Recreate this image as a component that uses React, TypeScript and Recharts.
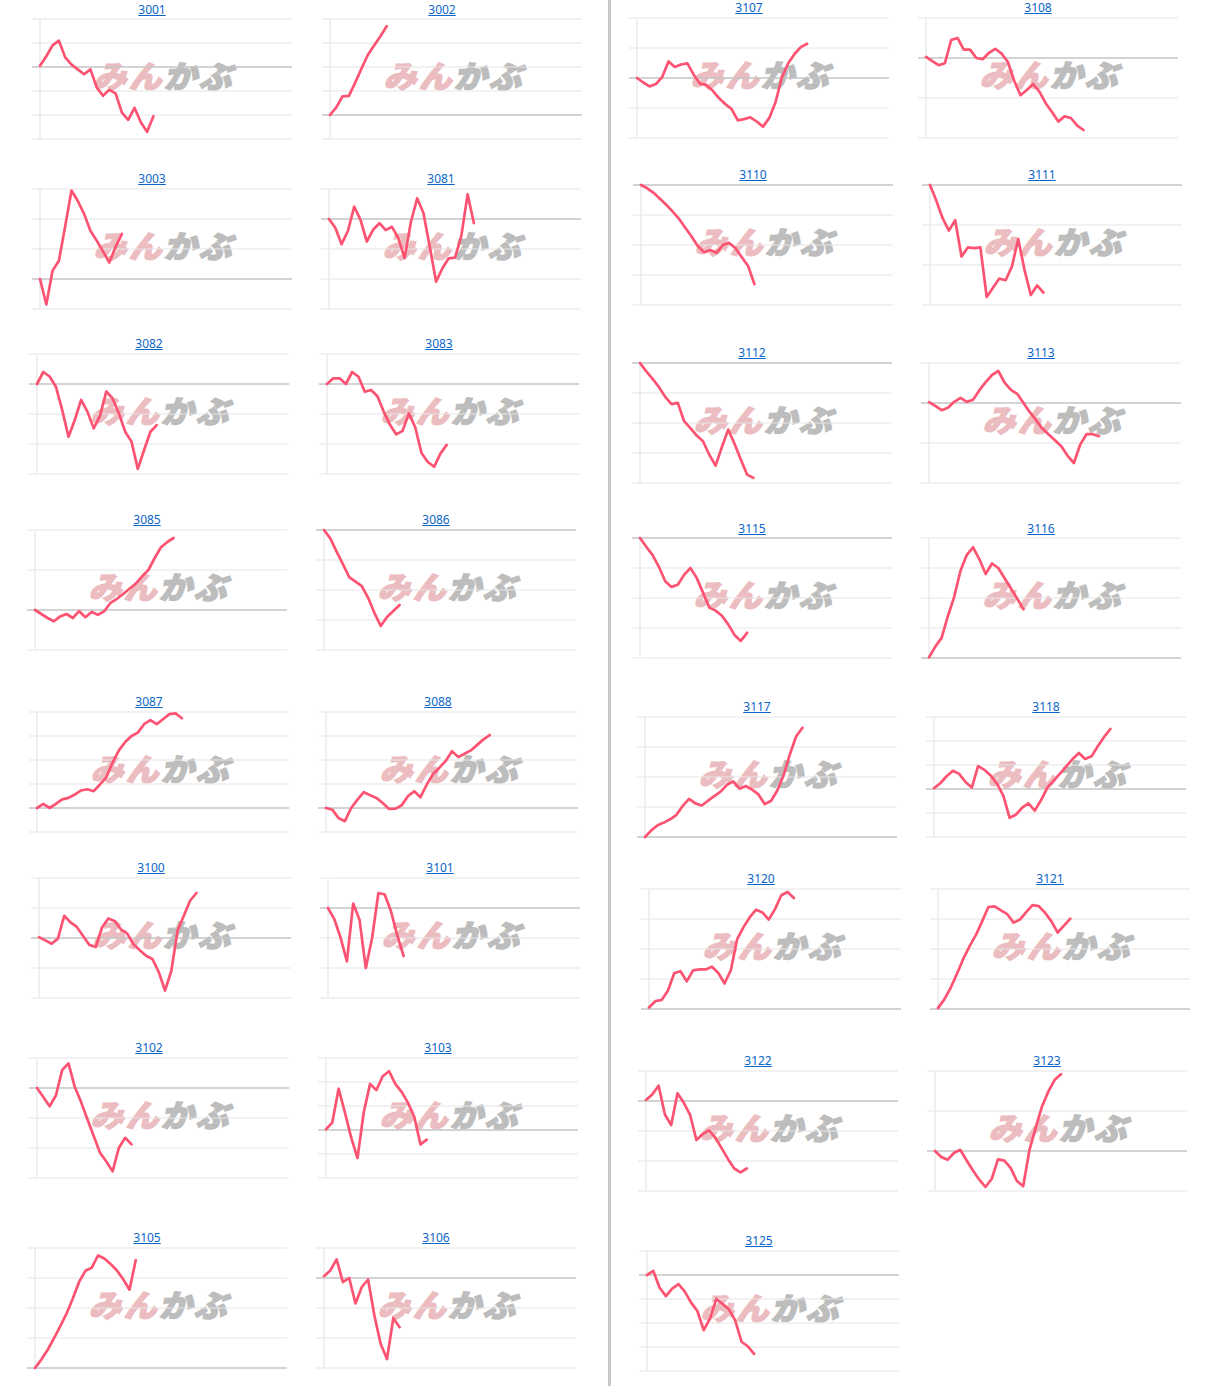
import React from "react";
import { LineChart, Line, XAxis, YAxis, ReferenceLine } from "recharts";

// price moves in grid steps, 0 = base price (darker line)
const s3001 = [0.05, 0.45, 0.9, 1.1, 0.4, 0.1, -0.1, -0.3, -0.1, -0.85, -1.2, -0.95, -1.1, -1.9, -2.2, -1.7, -2.3, -2.7, -2.05];
const s3002 = [0, 0.32, 0.78, 0.8, 1.35, 1.94, 2.5, 2.9, 3.28, 3.7];
const s3003 = [0, -0.85, 0.28, 0.61, 1.76, 2.95, 2.6, 2.17, 1.61, 1.28, 0.92, 0.55, 1.07, 1.5];
const s3081 = [0, -0.29, -0.84, -0.4, 0.41, -0.03, -0.75, -0.36, -0.14, -0.37, -0.26, -0.64, -1.3, -0.1, 0.69, 0.19, -0.93, -2.09, -1.64, -1.31, -1.29, -0.57, 0.82, -0.14];
const s3082 = [0, 0.4, 0.25, -0.09, -0.87, -1.76, -1.2, -0.53, -0.92, -1.48, -1.06, -0.25, -0.48, -0.98, -1.59, -1.92, -2.83, -2.2, -1.59, -1.37];
const s3083 = [0, 0.19, 0.19, 0, 0.4, 0.24, -0.26, -0.2, -0.41, -0.92, -1.36, -1.68, -1.56, -0.98, -1.44, -2.3, -2.6, -2.76, -2.32, -2.03];
const s3085 = [0, -0.1, -0.2, -0.28, -0.16, -0.1, -0.2, -0.03, -0.18, -0.05, -0.12, -0.03, 0.18, 0.28, 0.4, 0.53, 0.66, 0.84, 1.0, 1.3, 1.57, 1.7, 1.8];
const s3086 = [0, -0.28, -0.72, -1.14, -1.57, -1.72, -1.87, -2.26, -2.76, -3.2, -2.9, -2.7, -2.5];
const s3087 = [0, 0.17, 0, 0.17, 0.36, 0.42, 0.56, 0.73, 0.78, 0.7, 0.98, 1.28, 1.89, 2.4, 2.75, 3.0, 3.14, 3.49, 3.66, 3.49, 3.7, 3.91, 3.94, 3.74];
const s3088 = [0, -0.07, -0.42, -0.55, 0, 0.35, 0.66, 0.53, 0.42, 0.21, -0.04, -0.03, 0.11, 0.49, 0.7, 0.45, 0.98, 1.42, 1.68, 1.96, 2.37, 2.12, 2.26, 2.4, 2.63, 2.86, 3.04];
const s3100 = [0.03, -0.08, -0.19, -0.02, 0.74, 0.52, 0.37, 0.07, -0.23, -0.3, 0.35, 0.65, 0.57, 0.29, 0.15, -0.21, -0.41, -0.59, -0.7, -1.13, -1.75, -1.1, 0.25, 0.75, 1.25, 1.5];
const s3101 = [0, -0.37, -0.99, -1.78, 0.15, -0.39, -2.0, -1.0, 0.5, 0.45, -0.11, -0.91, -1.6];
const s3102 = [0, -0.3, -0.61, -0.25, 0.6, 0.82, 0.03, -0.47, -1.04, -1.6, -2.16, -2.45, -2.78, -1.99, -1.66, -1.88];
const s3103 = [0.03, 0.31, 1.72, 0.73, -0.32, -1.17, 0.75, 1.92, 1.66, 2.24, 2.45, 1.92, 1.59, 1.14, 0.55, -0.6, -0.4];
const s3105 = [0, 0.28, 0.6, 0.99, 1.39, 1.81, 2.32, 2.87, 3.24, 3.34, 3.75, 3.65, 3.47, 3.25, 2.96, 2.61, 3.6];
const s3106 = [0.06, 0.25, 0.62, -0.14, 0, -0.85, -0.3, -0.05, -1.25, -2.2, -2.7, -1.34, -1.64];
const s3107 = [0, -0.15, -0.28, -0.2, 0.03, 0.55, 0.37, 0.45, 0.49, 0.11, -0.19, -0.23, -0.42, -0.67, -0.87, -1.03, -1.41, -1.37, -1.31, -1.45, -1.62, -1.33, -0.8, 0.02, 0.49, 0.8, 1.03, 1.14];
const s3108 = [0.03, -0.08, -0.18, -0.13, 0.45, 0.5, 0.21, 0.21, 0, -0.03, 0.13, 0.23, 0.11, -0.1, -0.57, -0.93, -0.8, -0.65, -0.84, -1.13, -1.35, -1.59, -1.46, -1.5, -1.69, -1.8];
const s3110 = [0, -0.11, -0.26, -0.46, -0.66, -0.88, -1.12, -1.42, -1.71, -2.03, -2.24, -2.17, -2.26, -2.0, -1.93, -2.11, -2.41, -2.7, -3.3];
const s3111 = [0, -0.39, -0.83, -1.14, -0.88, -1.79, -1.56, -1.58, -1.56, -2.8, -2.57, -2.34, -2.38, -2.04, -1.35, -2.12, -2.75, -2.51, -2.69];
const s3112 = [0, -0.28, -0.53, -0.8, -1.13, -1.37, -1.33, -1.94, -2.17, -2.42, -2.61, -3.06, -3.42, -2.8, -2.22, -2.69, -3.22, -3.72, -3.83];
const s3113 = [0.02, -0.07, -0.18, -0.12, 0.03, 0.13, 0.03, 0.08, 0.32, 0.52, 0.7, 0.8, 0.51, 0.33, 0.23, 0, -0.23, -0.43, -0.64, -0.79, -0.93, -1.08, -1.32, -1.5, -1.04, -0.78, -0.78, -0.83];
const s3115 = [0, -0.29, -0.57, -0.96, -1.44, -1.63, -1.56, -1.23, -1.0, -1.33, -1.82, -2.32, -2.42, -2.59, -2.88, -3.23, -3.43, -3.16];
const s3116 = [0.02, 0.38, 0.67, 1.4, 2.04, 2.91, 3.44, 3.69, 3.29, 2.8, 3.15, 3.0, 2.66, 2.32, 1.98, 1.62];
const s3117 = [0, 0.22, 0.39, 0.48, 0.59, 0.74, 1.04, 1.27, 1.12, 1.05, 1.21, 1.36, 1.51, 1.74, 1.85, 1.61, 1.7, 1.58, 1.42, 1.1, 1.2, 1.55, 2.06, 2.76, 3.36, 3.64];
const s3118 = [0.03, 0.24, 0.53, 0.76, 0.63, 0.29, 0.06, 0.95, 0.8, 0.56, 0.22, -0.28, -1.2, -1.07, -0.78, -0.6, -0.9, -0.46, 0.06, 0.35, 0.64, 0.94, 1.25, 1.5, 1.25, 1.36, 1.78, 2.17, 2.5];
const s3120 = [0.05, 0.26, 0.3, 0.61, 1.19, 1.26, 0.92, 1.29, 1.32, 1.32, 1.41, 1.2, 0.85, 1.3, 2.33, 2.73, 3.06, 3.31, 3.22, 2.98, 3.33, 3.79, 3.9, 3.7];
const s3121 = [0.03, 0.32, 0.7, 1.17, 1.67, 2.09, 2.46, 2.92, 3.4, 3.42, 3.29, 3.16, 2.88, 2.98, 3.23, 3.46, 3.43, 3.21, 2.92, 2.55, 2.78, 3.01];
const s3122 = [0.03, 0.22, 0.51, -0.45, -0.8, 0.26, -0.06, -0.46, -1.3, -1.1, -0.98, -1.22, -1.57, -1.93, -2.25, -2.38, -2.25];
const s3123 = [0, -0.15, -0.22, -0.05, 0.03, -0.23, -0.48, -0.71, -0.9, -0.7, -0.21, -0.24, -0.42, -0.75, -0.88, 0.03, 0.59, 1.12, 1.49, 1.78, 1.92];
const s3125 = [0, 0.17, -0.53, -0.88, -0.57, -0.38, -0.69, -1.15, -1.5, -2.3, -1.82, -1.0, -1.21, -1.43, -1.89, -2.78, -2.97, -3.29];

const codes = [
  "3001", "3002", "3003", "3081", "3082", "3083", "3085", "3086",
  "3087", "3088", "3100", "3101", "3102", "3103", "3105", "3106",
  "3107", "3108", "3110", "3111", "3112", "3113", "3115", "3116",
  "3117", "3118", "3120", "3121", "3122", "3123", "3125",
];
const series = [
  s3001, s3002, s3003, s3081, s3082, s3083, s3085, s3086,
  s3087, s3088, s3100, s3101, s3102, s3103, s3105, s3106,
  s3107, s3108, s3110, s3111, s3112, s3113, s3115, s3116,
  s3117, s3118, s3120, s3121, s3122, s3123, s3125,
];
const lows = [-3, -1, -1, -3, -3, -3, -1, -4, -1, -1, -2, -3, -3, -2, 0, -3, -2, -2, -4, -3, -4, -2, -4, 0, 0, -2, 0, 0, -3, -1, -4];
const highs = [2, 4, 3, 1, 1, 1, 2, 0, 4, 4, 2, 1, 1, 3, 4, 1, 2, 1, 0, 0, 0, 1, 0, 4, 4, 3, 4, 4, 1, 2, 1];
const SLOTS = 40;

// where each small chart sits: axis x, plot top, title y
const spots = [
  [40, 19, 10], [330, 19, 10],
  [40, 189, 179], [329, 189, 179],
  [37, 354, 344], [327, 354, 344],
  [35, 530, 520], [324, 530, 520],
  [37, 712, 702], [326, 712, 702],
  [39, 878, 868], [328, 878, 868],
  [37, 1058, 1048], [326, 1058, 1048],
  [35, 1248, 1238], [324, 1248, 1238],
  [637, 18, 8], [926, 18, 8],
  [641, 185, 175], [930, 185, 175],
  [640, 363, 353], [929, 363, 353],
  [640, 538, 529], [929, 538, 529],
  [645, 717, 707], [934, 717, 707],
  [649, 889, 879], [938, 889, 879],
  [646, 1071, 1061], [935, 1071, 1061],
  [647, 1251, 1241],
];

const PLOT_W = 252;
const PLOT_H = 120;
const TICK = 8;
// grid rows reach 8px left of the axis, like the source page
const tickReach = (-TICK * SLOTS) / PLOT_W;

function Cell({ code, values, lo, hi, ax, top, ty }: any) {
  const data = values.map((v: number, i: number) => ({ i, v }));
  const ticks: number[] = [];
  for (let t = lo; t <= hi; t++) ticks.push(t);
  return (
    <>
      <a
        href="#"
        style={{
          position: "absolute",
          left: ax + 112 - 40,
          width: 80,
          top: ty - 8,
          lineHeight: "16px",
          textAlign: "center",
          fontSize: 12,
          color: "#0b66c8",
          textDecoration: "underline",
        }}
      >
        {code}
      </a>
      <div
        style={{
          position: "absolute",
          left: ax + PLOT_W / 2 + 1,
          top: top + PLOT_H / 2 - 4,
          transform: "translate(-50%, -50%) skewX(-14deg) scaleX(1.06)",
          whiteSpace: "nowrap",
          fontFamily: "'Noto Sans CJK JP', sans-serif",
          fontWeight: 900,
          fontSize: 31,
          letterSpacing: 2,
          lineHeight: "32px",
        }}
      >
        <span style={{ color: "#ecbdc0", WebkitTextStroke: "1.4px #ecbdc0" }}>みん</span>
        <span style={{ color: "#bdbdbd", WebkitTextStroke: "1.4px #bdbdbd" }}>かぶ</span>
      </div>
      <div style={{ position: "absolute", left: ax - TICK, top: top - 2 }}>
        <LineChart width={PLOT_W + TICK} height={PLOT_H + 4} data={data} margin={{ top: 2, right: 0, bottom: 2, left: TICK }}>
          <XAxis type="number" dataKey="i" domain={[0, SLOTS]} hide />
          <YAxis type="number" domain={[lo, hi]} ticks={ticks} hide />
          {ticks.map((t) => (
            <ReferenceLine
              key={t}
              ifOverflow="visible"
              segment={[{ x: tickReach, y: t }, { x: SLOTS, y: t }]}
              stroke={t === 0 ? "#c4c4c4" : "#e6e6e6"}
              strokeWidth={t === 0 ? 1.5 : 1.2}
            />
          ))}
          <ReferenceLine x={0} stroke="#e6e6e6" strokeWidth={1.2} />
          <Line
            type="linear"
            dataKey="v"
            stroke="#fd5372"
            strokeWidth={2.7}
            strokeLinejoin="round"
            strokeLinecap="round"
            dot={false}
            isAnimationActive={false}
          />
        </LineChart>
      </div>
    </>
  );
}

export default function App() {
  return (
    <div
      style={{
        position: "absolute",
        left: 0,
        top: 0,
        width: 1212,
        height: 1386,
        background: "#fff",
        fontFamily: "'Noto Sans', sans-serif",
        overflow: "hidden",
      }}
    >
      <div style={{ position: "absolute", left: 608, top: 0, width: 3, height: 1386, background: "#c8c8c8" }} />
      {codes.map((code, k) => (
        <Cell
          key={code}
          code={code}
          values={series[k]}
          lo={lows[k]}
          hi={highs[k]}
          ax={spots[k][0]}
          top={spots[k][1]}
          ty={spots[k][2]}
        />
      ))}
    </div>
  );
}
